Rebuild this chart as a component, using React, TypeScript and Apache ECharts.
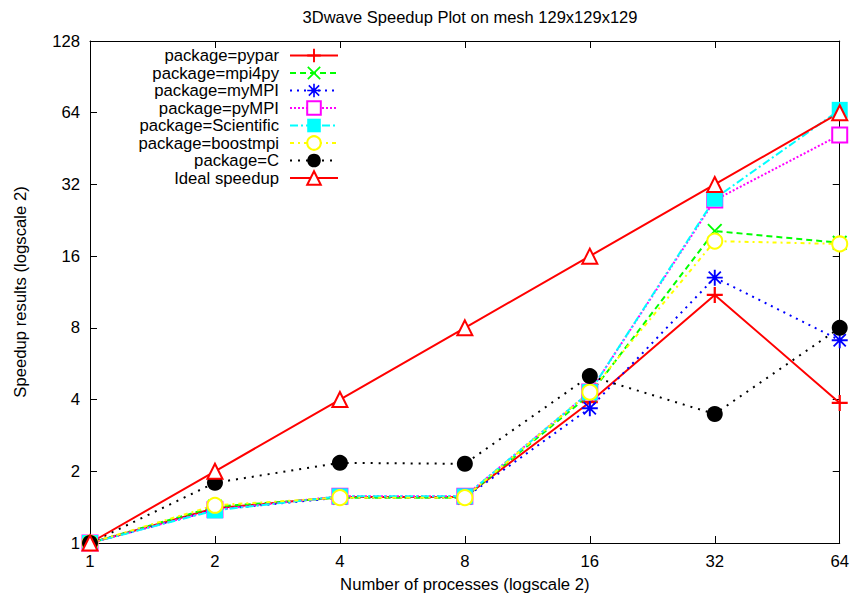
import React, { useEffect, useRef } from "react";
import * as echarts from "echarts";

const processes = [1, 2, 4, 8, 16, 32, 64];
const yTicks = [1, 2, 4, 8, 16, 32, 64, 128];

const pypar = [1, 1.4, 1.56, 1.56, 3.9, 11.0, 3.87];
const mpi4py = [1, 1.42, 1.55, 1.55, 4.2, 20.4, 18.2];
const myMPI = [1, 1.38, 1.55, 1.55, 3.68, 13.0, 7.1];
const pyMPI = [1, 1.38, 1.57, 1.57, 4.3, 27.5, 51.6];
const scientific = [1, 1.37, 1.57, 1.57, 4.3, 27.9, 65.8];
const boostmpi = [1, 1.44, 1.55, 1.55, 4.3, 18.5, 18.0];
const packageC = [1, 1.79, 2.17, 2.15, 5.02, 3.48, 8.0];
const ideal = [1, 2, 4, 8, 16, 32, 64];

const FONT = "'Liberation Sans', Arial, sans-serif";
const FS = 16.7;

const PLUS = "path://M4.3,0H5.7V4.3H10V5.7H5.7V10H4.3V5.7H0V4.3H4.3Z";
const CROSS =
  "path://M0,0.9 L0.9,0 L5,4.1 L9.1,0 L10,0.9 L5.9,5 L10,9.1 L9.1,10 L5,5.9 L0.9,10 L0,9.1 L4.1,5 Z";
const STAR =
  "path://M4.4,0H5.6V10H4.4Z M0,4.4H10V5.6H0Z M0.8,1.6L1.6,0.8L9.2,8.4L8.4,9.2Z M8.4,0.8L9.2,1.6L1.6,9.2L0.8,8.4Z";

export default function App() {
  const ref = useRef<HTMLDivElement>(null);
  useEffect(() => {
    if (!ref.current) return;
    const chart = echarts.init(ref.current, null, { renderer: "svg" });
    const mk = (
      name: string,
      vals: number[],
      color: string,
      dash: any,
      symbol: string,
      size: number,
      border: number
    ) => ({
      name,
      type: "line",
      data: processes.map((p, i) => [p, vals[i]]),
      symbol,
      symbolSize: size,
      showAllSymbol: true,
      clip: false,
      lineStyle: { color, width: 2, type: dash },
      itemStyle: { color, borderColor: color, borderWidth: border },
      emphasis: { disabled: true },
    });
    const series = [
      mk("package=pypar", pypar, "#ff0000", "solid", PLUS, 16, 0),
      mk("package=mpi4py", mpi4py, "#00ff00", [6, 4], CROSS, 15, 0),
      mk("package=myMPI", myMPI, "#0000ff", [2, 5], STAR, 16, 0),
      mk("package=pyMPI", pyMPI, "#ff00ff", [2, 2], "emptyRect", 15, 2),
      mk("package=Scientific", scientific, "#00ffff", [8, 3, 2, 3], "rect", 16, 0),
      mk("package=boostmpi", boostmpi, "#ffff00", [4, 4, 2, 4], "emptyCircle", 15, 2),
      mk("package=C", packageC, "#000000", [2, 6], "circle", 16, 0),
      mk("Ideal speedup", ideal, "#ff0000", "solid", "emptyTriangle", 15, 2),
    ];
    const axisLine = { show: true, lineStyle: { color: "#000", width: 1 } };
    const axisTick = { show: true, inside: true, length: 7, lineStyle: { color: "#000" } };
    const labelStyle = { color: "#000", fontSize: FS, fontFamily: FONT };
    chart.setOption({
      animation: false,
      backgroundColor: "#fff",
      textStyle: { fontFamily: FONT },
      title: {
        text: "3Dwave Speedup Plot on mesh 129x129x129",
        left: 465,
        top: 3,
        textAlign: "center",
        textStyle: { color: "#000", fontSize: 16.5, fontWeight: "normal", fontFamily: FONT },
      },
      legend: {
        orient: "vertical",
        align: "right",
        right: 513,
        top: 47,
        padding: 0,
        itemWidth: 48,
        itemHeight: 17,
        itemGap: 0.5,
        textStyle: { color: "#000", fontSize: FS, fontFamily: FONT, padding: [0, 6, 0, 0] },
        data: series.map((s) => s.name),
      },
      grid: { left: 90, right: 12, top: 41, bottom: 55 },
      xAxis: [
        {
          type: "log",
          logBase: 2,
          min: 1,
          max: 64,
          splitNumber: 6,
          name: "Number of processes (logscale 2)",
          nameLocation: "middle",
          nameGap: 33,
          nameTextStyle: labelStyle,
          axisLine,
          axisTick,
          axisLabel: { ...labelStyle, margin: 10, formatter: (v: number) => String(Math.round(v)) },
          splitLine: { show: false },
        },
        {
          type: "log",
          logBase: 2,
          min: 1,
          max: 64,
          splitNumber: 6,
          position: "top",
          axisLine,
          axisTick,
          axisLabel: { show: false },
          splitLine: { show: false },
        },
      ],
      yAxis: [
        {
          type: "log",
          logBase: 2,
          min: yTicks[0],
          max: yTicks[yTicks.length - 1],
          splitNumber: 7,
          name: "Speedup results (logscale 2)",
          nameLocation: "middle",
          nameGap: 61,
          nameRotate: 90,
          nameTextStyle: labelStyle,
          axisLine,
          axisTick,
          axisLabel: { ...labelStyle, margin: 10, formatter: (v: number) => String(Math.round(v)) },
          splitLine: { show: false },
        },
        {
          type: "log",
          logBase: 2,
          min: yTicks[0],
          max: yTicks[yTicks.length - 1],
          splitNumber: 7,
          position: "right",
          axisLine,
          axisTick,
          axisLabel: { show: false },
          splitLine: { show: false },
        },
      ],
      series,
    });
    return () => chart.dispose();
  }, []);
  return (
    <div
      ref={ref}
      style={{ position: "fixed", left: 0, top: 0, width: 852, height: 598 }}
    />
  );
}
